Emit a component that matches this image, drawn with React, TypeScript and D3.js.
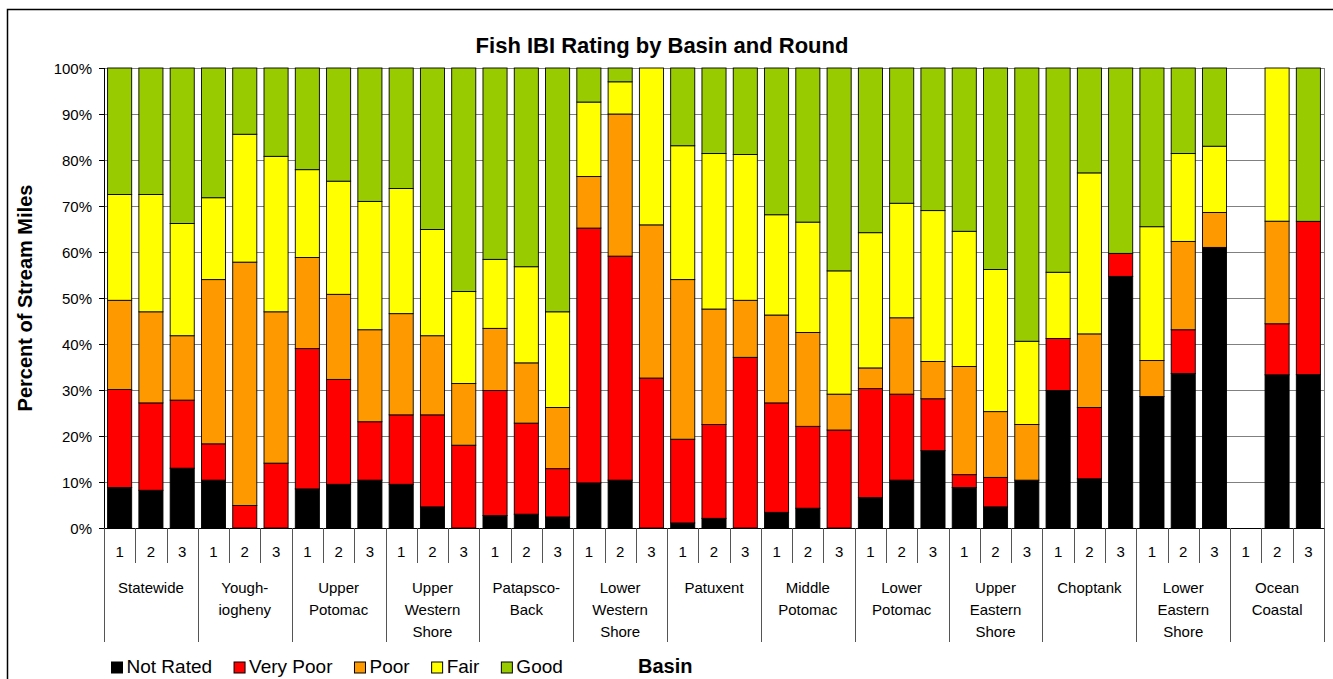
import React, { useRef, useEffect } from "react";
import * as d3 from "d3";

const basins = [
  ["Statewide"],
  ["Yough-", "iogheny"],
  ["Upper", "Potomac"],
  ["Upper", "Western", "Shore"],
  ["Patapsco-", "Back"],
  ["Lower", "Western", "Shore"],
  ["Patuxent"],
  ["Middle", "Potomac"],
  ["Lower", "Potomac"],
  ["Upper", "Eastern", "Shore"],
  ["Choptank"],
  ["Lower", "Eastern", "Shore"],
  ["Ocean", "Coastal"],
];
const rounds = ["1", "2", "3"];

// percent of stream miles, 3 rounds per basin in basin order
const notRated = [
  8.8, 8.2, 13.0, 10.4, 0, 0, 8.5, 9.5, 10.4, 9.5, 4.6, 0, 2.7, 3.0, 2.4, 9.8, 10.4, 0, 1.1, 2.1, 0,
  3.4, 4.3, 0, 6.6, 10.4, 16.8, 8.8, 4.6, 10.4, 29.9, 10.7, 54.7, 28.6, 33.6, 61.0, 0, 33.3, 33.3,
];
const veryPoor = [
  21.3, 19.0, 14.8, 7.9, 4.9, 14.1, 30.5, 22.8, 12.7, 15.1, 20.0, 18.0, 27.2, 19.8, 10.5, 55.4, 48.7,
  32.6, 18.2, 20.4, 37.1, 23.8, 17.8, 21.3, 23.7, 18.7, 11.3, 2.8, 6.4, 0, 11.3, 15.5, 5.0, 0, 9.5, 0,
  0, 11.1, 33.3,
];
const poor = [
  19.4, 19.8, 14.0, 35.7, 52.9, 32.9, 19.8, 18.5, 20.0, 22.0, 17.2, 13.4, 13.5, 13.1, 13.3, 11.2, 30.9,
  33.3, 34.7, 25.1, 12.4, 19.1, 20.4, 7.8, 4.5, 16.6, 8.1, 23.5, 14.3, 12.1, 0, 16.0, 0, 7.8, 19.2, 7.6,
  0, 22.3, 0,
];
const fair = [
  23.0, 25.5, 24.4, 17.8, 27.8, 33.8, 19.1, 24.6, 27.9, 27.2, 23.1, 20.0, 15.0, 20.9, 20.8, 16.2, 7.0,
  34.1, 29.1, 33.8, 31.7, 21.8, 24.0, 26.8, 29.4, 24.9, 32.8, 29.4, 30.9, 18.1, 14.4, 35.0, 0, 29.1,
  19.1, 14.4, 0, 33.3, 0,
];
const good = [
  27.5, 27.5, 33.8, 28.2, 14.4, 19.2, 22.1, 24.6, 29.0, 26.2, 35.1, 48.6, 41.6, 43.2, 53.0, 7.4, 3.0, 0,
  16.9, 18.6, 18.8, 31.9, 33.5, 44.1, 35.8, 29.4, 31.0, 35.5, 43.8, 59.4, 44.4, 22.8, 40.3, 34.5, 18.6,
  17.0, 0, 0, 33.3,
];

const ratings = ["Not Rated", "Very Poor", "Poor", "Fair", "Good"];
const colors = ["#000000", "#FF0000", "#FF9900", "#FFFF00", "#99CC00"];
const yTicks = [0, 0.1, 0.2, 0.3, 0.4, 0.5, 0.6, 0.7, 0.8, 0.9, 1];

const font = "'Liberation Sans', Arial, sans-serif";

const App = () => {
  const chartRef = useRef<SVGSVGElement | null>(null);
  const width = 1333;
  const height = 679;

  useEffect(() => {
    const svg = d3.select(chartRef.current);
    svg.selectAll("*").remove();

    const left = 104;
    const right = 1324;
    const top = 68;
    const bottom = 528;

    const keys = basins.flatMap((b, bi) => rounds.map((r) => `${bi}-${r}`));
    const series = [notRated, veryPoor, poor, fair, good];
    const rows = keys.map((k, i) => {
      const row: any = { key: k };
      ratings.forEach((r, j) => (row[r] = series[j][i]));
      return row;
    });

    const x = d3
      .scaleBand()
      .domain(keys)
      .range([left, right])
      .paddingInner(0.23)
      .paddingOuter(0.115);
    const y = d3.scaleLinear().domain([0, 1]).range([bottom, top]);
    const step = x.step();

    // frame
    svg
      .append("rect")
      .attr("x", 7.5)
      .attr("y", 9.5)
      .attr("width", 1340)
      .attr("height", 700)
      .attr("fill", "#fff")
      .attr("stroke", "#000")
      .attr("stroke-width", 1.5);

    // title
    svg
      .append("text")
      .attr("x", 662)
      .attr("y", 53)
      .attr("text-anchor", "middle")
      .style("font-family", font)
      .style("font-size", "22px")
      .style("font-weight", "bold")
      .text("Fish IBI Rating by Basin and Round");

    // gridlines
    svg
      .append("g")
      .selectAll("line")
      .data(yTicks.filter((t) => t > 0))
      .enter()
      .append("line")
      .attr("x1", left)
      .attr("x2", right)
      .attr("y1", (d) => Math.round(y(d)) + 0.5)
      .attr("y2", (d) => Math.round(y(d)) + 0.5)
      .attr("stroke", "#808080")
      .attr("stroke-width", 1);
    svg
      .append("line")
      .attr("x1", right + 0.5)
      .attr("x2", right + 0.5)
      .attr("y1", top)
      .attr("y2", bottom)
      .attr("stroke", "#808080");

    // bars
    const stacked = d3.stack().keys(ratings).offset(d3.stackOffsetExpand)(rows);
    const layers = svg
      .append("g")
      .selectAll("g")
      .data(stacked)
      .enter()
      .append("g")
      .attr("fill", (d, i) => colors[i]);
    layers
      .selectAll("rect")
      .data((d) => d.filter((p) => p[1] - p[0] > 0))
      .enter()
      .append("rect")
      .attr("x", (d) => x(d.data.key))
      .attr("y", (d) => y(d[1]))
      .attr("width", x.bandwidth())
      .attr("height", (d) => y(d[0]) - y(d[1]))
      .attr("stroke", "#000")
      .attr("stroke-width", 0.9);

    // y axis
    svg
      .append("line")
      .attr("x1", left + 0.5)
      .attr("x2", left + 0.5)
      .attr("y1", top)
      .attr("y2", bottom)
      .attr("stroke", "#000");
    const yt = svg.append("g").selectAll("g").data(yTicks).enter().append("g");
    yt.append("line")
      .attr("x1", left - 5)
      .attr("x2", left)
      .attr("y1", (d) => Math.round(y(d)) + 0.5)
      .attr("y2", (d) => Math.round(y(d)) + 0.5)
      .attr("stroke", "#000");
    yt.append("text")
      .attr("x", left - 12)
      .attr("y", (d) => y(d) + 5.5)
      .attr("text-anchor", "end")
      .style("font-family", font)
      .style("font-size", "15px")
      .text((d) => `${Math.round(d * 100)}%`);

    svg
      .append("text")
      .attr("transform", `translate(32, ${(top + bottom) / 2}) rotate(-90)`)
      .attr("text-anchor", "middle")
      .style("font-family", font)
      .style("font-size", "20px")
      .style("font-weight", "bold")
      .text("Percent of Stream Miles");

    // category axis
    svg
      .append("line")
      .attr("x1", left)
      .attr("x2", right)
      .attr("y1", bottom + 0.5)
      .attr("y2", bottom + 0.5)
      .attr("stroke", "#000");
    svg
      .append("g")
      .selectAll("line")
      .data(d3.range(keys.length + 1))
      .enter()
      .append("line")
      .attr("x1", (i) => Math.round(left + i * step) + 0.5)
      .attr("x2", (i) => Math.round(left + i * step) + 0.5)
      .attr("y1", bottom)
      .attr("y2", (i) => (i % 3 === 0 ? 642 : 563))
      .attr("stroke", "#555");
    svg
      .append("g")
      .selectAll("text")
      .data(keys)
      .enter()
      .append("text")
      .attr("x", (k) => x(k) + x.bandwidth() / 2)
      .attr("y", 557)
      .attr("text-anchor", "middle")
      .style("font-family", font)
      .style("font-size", "15px")
      .text((k) => k.split("-")[1]);
    const bl = svg
      .append("g")
      .selectAll("text")
      .data(basins)
      .enter()
      .append("text")
      .attr("text-anchor", "middle")
      .style("font-family", font)
      .style("font-size", "15px");
    bl.selectAll("tspan")
      .data((d, bi) => d.map((line) => ({ line, bi })))
      .enter()
      .append("tspan")
      .attr("x", (d) => left + (d.bi * 3 + 1.5) * step)
      .attr("y", (d, j) => 593 + j * 22)
      .text((d) => d.line);

    // legend
    let cx = 111.5;
    ratings.forEach((r, i) => {
      svg
        .append("rect")
        .attr("x", cx)
        .attr("y", 662)
        .attr("width", 11)
        .attr("height", 11)
        .attr("fill", colors[i])
        .attr("stroke", "#000")
        .attr("stroke-width", 1);
      const t = svg
        .append("text")
        .attr("x", cx + 15)
        .attr("y", 673)
        .style("font-family", font)
        .style("font-size", "19px")
        .text(r);
      const w = (t.node() as SVGTextElement).getComputedTextLength();
      cx += 15 + w + 22;
    });
    svg
      .append("text")
      .attr("x", 638)
      .attr("y", 673)
      .style("font-family", font)
      .style("font-size", "20px")
      .style("font-weight", "bold")
      .text("Basin");
  }, []);

  return (
    <svg
      ref={chartRef}
      width={width}
      height={height}
      style={{ position: "absolute", left: 0, top: 0, background: "#fff" }}
    />
  );
};

export default App;
